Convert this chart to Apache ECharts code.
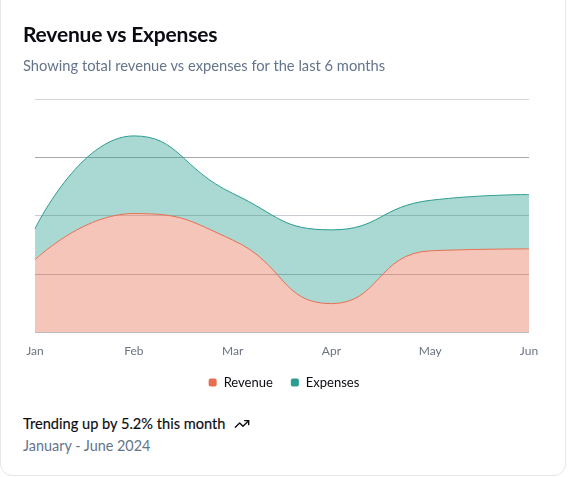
<!DOCTYPE html>
<html>
<head>
<meta charset="utf-8">
<script src="https://cdn.jsdelivr.net/npm/echarts@6/dist/echarts.min.js"></script>
<style>
  html, body { margin: 0; padding: 0; background: #fff; }
  body { width: 568px; height: 477px; overflow: hidden; position: relative; font-family: Lato, "Noto Sans", sans-serif; }
  .card {
    position: absolute; left: 0; top: -12px; width: 566px; height: 488px;
    border: 1px solid #e4e6ea; border-radius: 12px; box-sizing: border-box;
  }
  .title { position: absolute; left: 23px; top: 21px; font-size: 21px; font-weight: 700; color: #0b0b12; letter-spacing: -0.2px; }
  .desc { position: absolute; left: 23px; top: 56px; font-size: 14.7px; color: #64748b; }
  #chart { position: absolute; left: 0; top: 0; width: 568px; height: 400px; }
  .trend { position: absolute; left: 23px; top: 415px; font-size: 14.6px; font-weight: 400; color: #0b0b12; display: flex; align-items: center; -webkit-text-stroke: 0.15px #0b0b12; }
  .trend svg { margin-left: 9px; }
  .period { position: absolute; left: 23px; top: 437px; font-size: 14.4px; color: #64748b; }
</style>
</head>
<body>
<div class="card"></div>
<div id="chart"></div>
<div class="title">Revenue vs Expenses</div>
<div class="desc">Showing total revenue vs expenses for the last 6 months</div>
<div class="trend">Trending up by 5.2% this month
  <svg width="16" height="16" viewBox="0 0 24 24" fill="none" stroke="#0b0b12" stroke-width="2" stroke-linecap="round" stroke-linejoin="round"><polyline points="22 7 13.5 15.5 8.5 10.5 2 17"></polyline><polyline points="16 7 22 7 22 13"></polyline></svg>
</div>
<div class="period">January - June 2024</div>
<script>
// ===== 数据 =====
const months = ['Jan', 'Feb', 'Mar', 'Apr', 'May', 'Jun']
const revenue = [186, 305, 237, 73, 209, 214]
const expenses = [80, 200, 120, 190, 130, 140]

const REVENUE_COLOR = '#e76e50'
const EXPENSES_COLOR = '#2a9d90'

const chart = echarts.init(document.getElementById('chart'), null, { renderer: 'canvas' })

chart.setOption({
  animation: false,
  grid: { left: 35, right: 39, top: 99, bottom: 68 },
  legend: {
    top: 371,
    left: 'center',
    icon: 'roundRect',
    itemWidth: 8,
    itemHeight: 8,
    itemGap: 18,
    textStyle: { fontFamily: 'Lato', fontSize: 13, color: '#0b0b12', padding: [0, 0, 0, 2] },
    data: ['Revenue', 'Expenses'],
  },
  xAxis: {
    type: 'category',
    data: months,
    boundaryGap: false,
    axisLine: { show: false },
    axisTick: { show: false },
    axisLabel: { margin: 13, fontFamily: 'Lato', fontSize: 12, color: '#6b7280' },
  },
  yAxis: {
    type: 'value',
    min: 0,
    max: 600,
    interval: 150,
    axisLabel: { show: false },
    axisLine: { show: false },
    axisTick: { show: false },
    splitLine: {
      lineStyle: { color: ['#b9bdc2', '#b9bdc2', '#c8ccd0', '#a3a8ad', '#d3d7db'], width: 1 },
    },
  },
  series: [
    {
      name: 'Revenue',
      type: 'line',
      stack: 'a',
      smooth: 0.5,
      symbol: 'none',
      data: revenue,
      itemStyle: { color: REVENUE_COLOR },
      lineStyle: { color: REVENUE_COLOR, width: 1 },
      areaStyle: { color: REVENUE_COLOR, opacity: 0.4 },
    },
    {
      name: 'Expenses',
      type: 'line',
      stack: 'a',
      smooth: 0.5,
      symbol: 'none',
      data: expenses,
      itemStyle: { color: EXPENSES_COLOR },
      lineStyle: { color: EXPENSES_COLOR, width: 1 },
      areaStyle: { color: EXPENSES_COLOR, opacity: 0.4 },
    },
  ],
})
</script>
</body>
</html>
